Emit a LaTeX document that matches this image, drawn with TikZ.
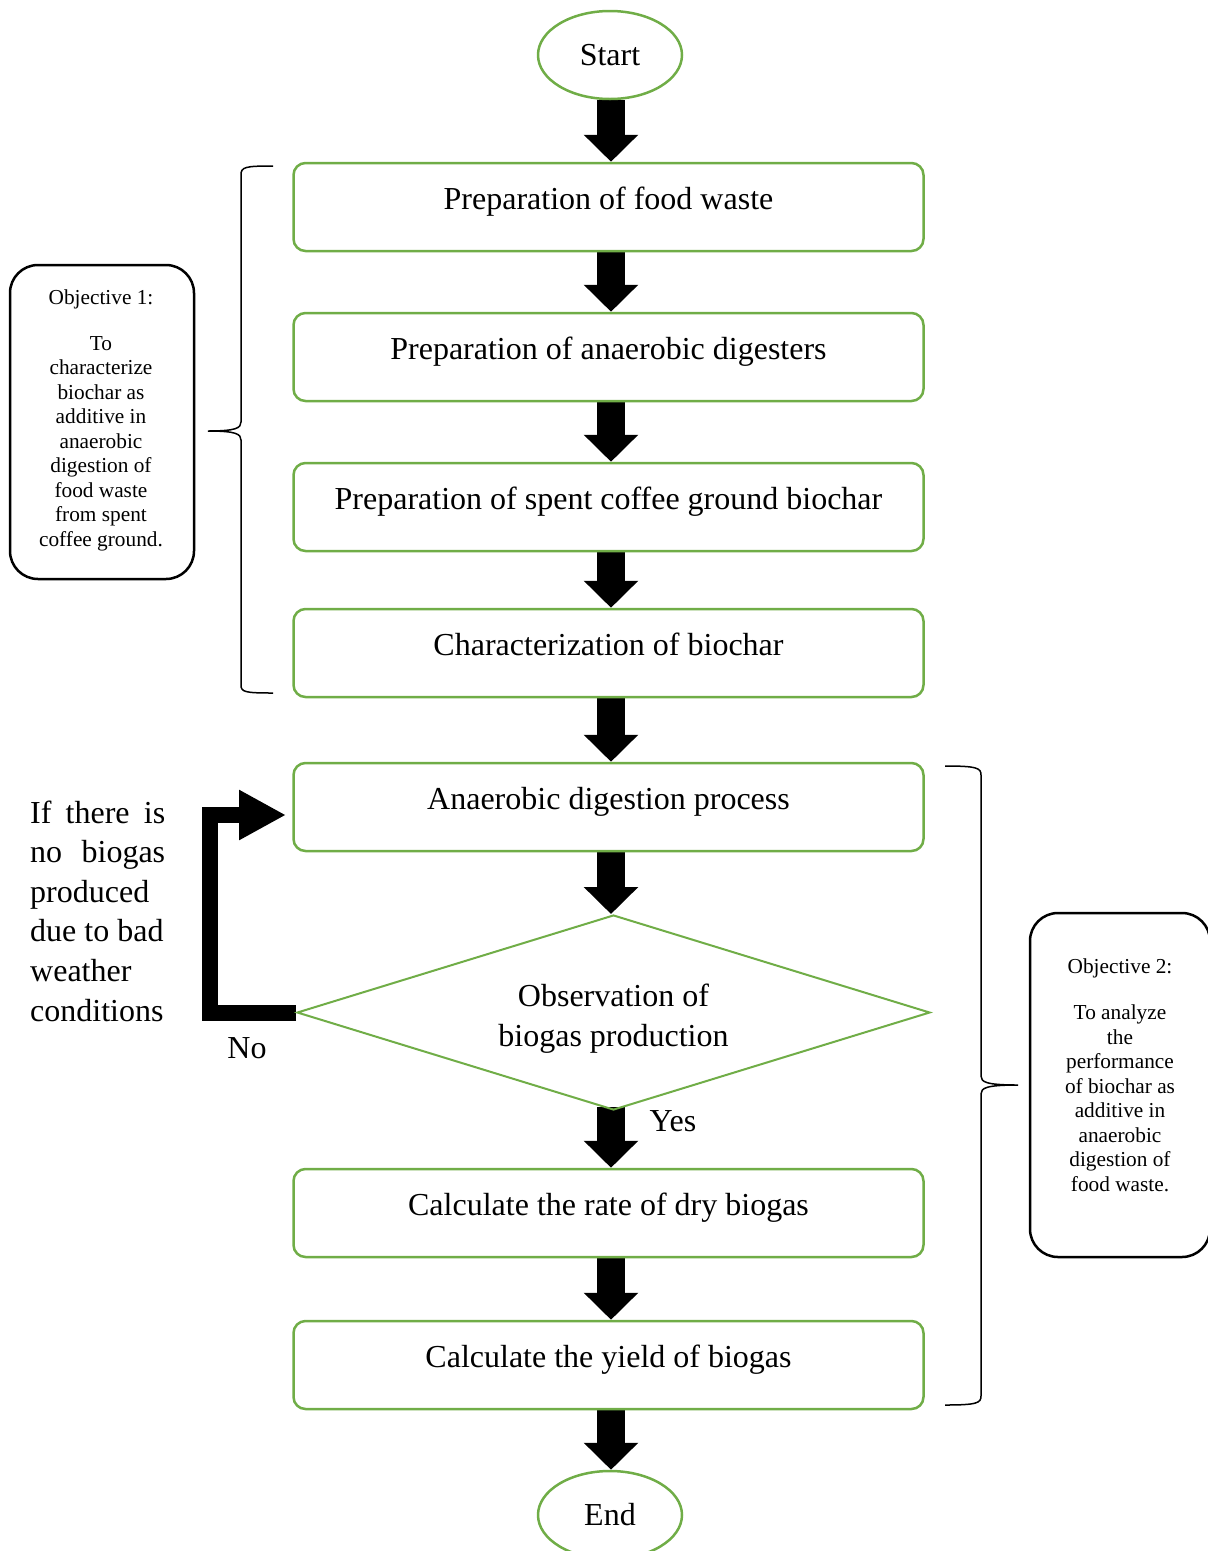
\documentclass[tikz,border=0pt]{standalone}
\usepackage{fontspec}
\setmainfont{Liberation Serif}
\usetikzlibrary{arrows.meta,shapes.geometric,backgrounds}
\definecolor{boxgreen}{HTML}{70AD47}

\begin{document}
\begin{tikzpicture}[x=1pt,y=-1pt,
  big/.style={font=\fontsize{32}{40}\selectfont},
  small/.style={font=\fontsize{21.3}{24.5}\selectfont},
  stepbox/.style={draw=boxgreen, line width=2.5pt, rounded corners=12pt,
    minimum width=630pt, minimum height=88pt, inner sep=0pt, big,
    text height=20pt, text depth=16pt},
  term/.style={draw=boxgreen, line width=2.5pt, ellipse, minimum width=144pt,
    minimum height=88pt, inner sep=0pt, big},
  decision/.style={draw=boxgreen, line width=2pt, diamond, aspect=3.246,
    minimum width=633pt, minimum height=195pt, inner sep=0pt},
  objbox/.style={draw=black, line width=2.5pt, rounded corners=28pt, inner sep=0pt},
  objtext/.style={small, align=center, inner sep=0pt},
  blockarrow/.style={line width=28pt, -{Triangle[length=27pt,width=53pt]}},
  loopline/.style={line width=16pt, -{Triangle[length=47pt,width=47pt]}},
  brace/.style={draw=black, line width=1.5pt},
]
\useasboundingbox (0,0) rectangle (1208,1551);

% main flow
\node[term] (start) at (610,55) {Start};
\node[stepbox] (b1) at (608.5,207) {Preparation of food waste};
\node[stepbox] (b2) at (608.5,357) {Preparation of anaerobic digesters};
\node[stepbox] (b3) at (608.5,507) {Preparation of spent coffee ground biochar};
\node[stepbox] (b4) at (608.5,653) {Characterization of biochar};
\node[stepbox] (b5) at (608.5,807) {Anaerobic digestion process};
\node[decision] (dia) at (613.5,1012.5) {};
\node[big, align=center, inner sep=0pt] (diat) at (613.5,1018.5) {Observation of\\biogas production};
\node[stepbox] (b6) at (608.5,1213) {Calculate the rate of dry biogas};
\node[stepbox] (b7) at (608.5,1365) {Calculate the yield of biogas};
\node[term] (end) at (610,1515) {End};

% objectives
\node[objbox, minimum width=184pt, minimum height=314pt] (obj1) at (102,422) {};
\node[objtext] (obj1t) at (101,420) {Objective 1:\\[21.5pt]To\\characterize\\biochar as\\additive in\\anaerobic\\digestion of\\food waste\\from spent\\coffee ground.};
\node[objbox, minimum width=180pt, minimum height=344pt] (obj2) at (1120,1085) {};
\node[objtext] (obj2t) at (1120,1075) {Objective 2:\\[21.5pt]To analyze\\the\\performance\\of biochar as\\additive in\\anaerobic\\digestion of\\food waste.};

% labels
\node[big, inner sep=0pt] (no) at (247,1048) {No};
\node[big, inner sep=0pt] (yes) at (673,1121) {Yes};
\node[font=\fontsize{32}{39.6}\selectfont, align=left, inner sep=0pt, anchor=west] (note) at (30,911)
  {\makebox[135pt][s]{If there is}\\\makebox[135pt][s]{no biogas}\\produced\\due to bad\\weather\\conditions};

% braces
\draw[brace] (273,166) .. controls (245,166) and (241,167) .. (241,175) -- (241,422)
  .. controls (241,428) and (236,431) .. (208,431)
  .. controls (236,431) and (241,434) .. (241,440) -- (241,685)
  .. controls (241,692) and (245,693) .. (273,693);
\draw[brace] (945,766) .. controls (977,766) and (981,768) .. (981,775) -- (981,1076)
  .. controls (981,1082) and (986,1085) .. (1018,1085)
  .. controls (986,1085) and (981,1088) .. (981,1094) -- (981,1396)
  .. controls (981,1403) and (977,1405) .. (945,1405);

% arrows
\coordinate (ax) at (611,0);
\coordinate (lc) at (210,815);
\coordinate (lt) at (286,815);
\begin{scope}[on background layer]
\draw[blockarrow] (start.south -| ax) -- (b1.north -| ax);
\draw[blockarrow] (b1.south -| ax) -- (b2.north -| ax);
\draw[blockarrow] (b2.south -| ax) -- (b3.north -| ax);
\draw[blockarrow] (b3.south -| ax) -- (b4.north -| ax);
\draw[blockarrow] (b4.south -| ax) -- (b5.north -| ax);
\draw[blockarrow] (b5.south -| ax) -- (dia.north -| ax);
\draw[blockarrow] ([yshift=4pt]dia.south -| ax) -- (b6.north -| ax);
\draw[blockarrow] (b6.south -| ax) -- (b7.north -| ax);
\draw[blockarrow] (b7.south -| ax) -- (end.north -| ax);
\draw[loopline] (dia.west) -| (lc) -- (lt);
\end{scope}
\end{tikzpicture}
\end{document}
